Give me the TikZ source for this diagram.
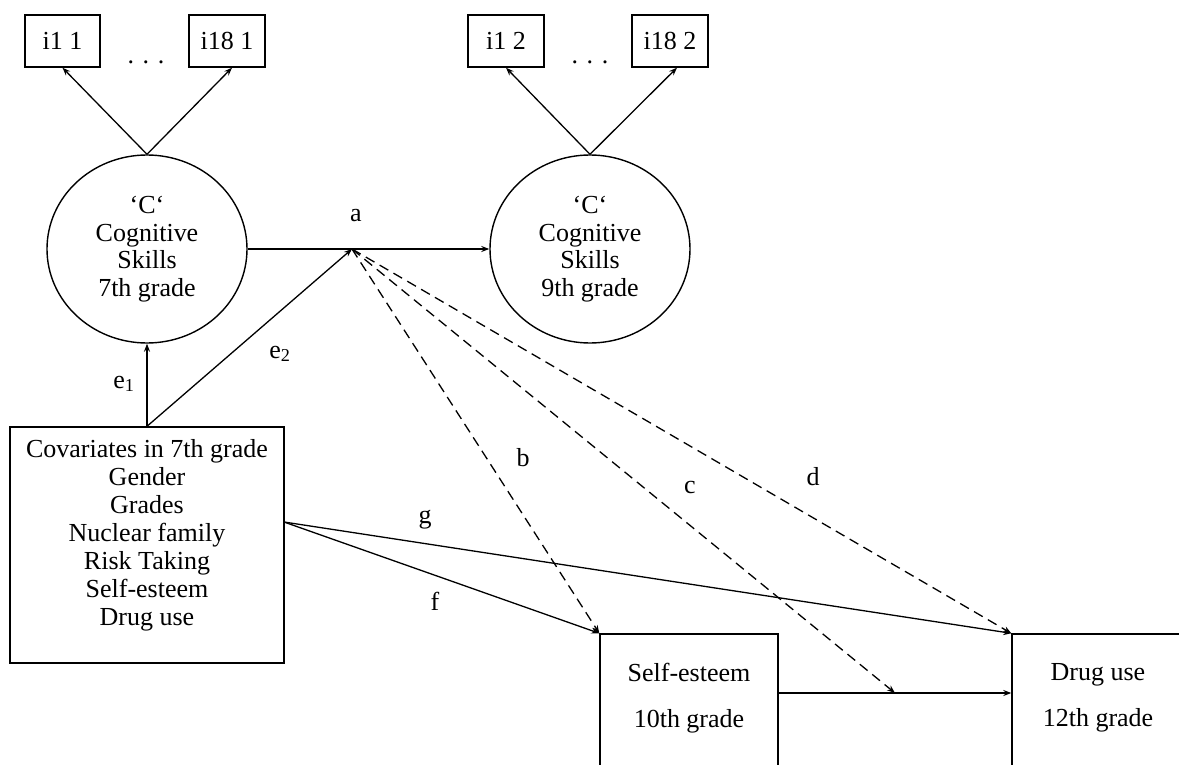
\documentclass[tikz,border=0pt]{standalone}
\usepackage{fontspec}
\setmainfont{Liberation Serif}
\usetikzlibrary{arrows.meta,shapes.geometric}
\begin{document}
\begin{tikzpicture}[x=1pt,y=-1pt,
  every node/.style={font=\fontsize{26}{28}\selectfont, inner sep=0pt},
  box/.style={draw, line width=1.4pt, rectangle},
  latent/.style={draw, line width=1.4pt, ellipse, minimum width=200pt, minimum height=188pt, align=center, font=\fontsize{26}{27.7}\selectfont},
  arr/.style={line width=1.3pt, -{Stealth[length=8pt,width=6pt]}},
  darr/.style={arr, dash pattern=on 10pt off 6pt},
  twoline/.style={align=center, font=\fontsize{26}{46}\selectfont}]
\useasboundingbox (0,0) rectangle (1179,765);
\clip (0,0) rectangle (1179,765);
% indicators
\node[box, minimum width=75pt, minimum height=52pt] (i11) at (62.5,41) {i1 1};
\node[box, minimum width=76pt, minimum height=52pt] (i181) at (227,41) {i18 1};
\node[box, minimum width=76pt, minimum height=52pt] (i12) at (506,41) {i1 2};
\node[box, minimum width=76pt, minimum height=52pt] (i182) at (670,41) {i18 2};
\node[anchor=base] (dots1) at (146,64) {. . .};
\node[anchor=base] (dots2) at (590,64) {. . .};
% latent variables
\node[latent] (C1) at (147,249) {‘C‘\\Cognitive\\Skills\\7th grade};
\node[latent] (C2) at (590,249) {‘C‘\\Cognitive\\Skills\\9th grade};
% covariates
\node[box, minimum width=274pt, minimum height=236pt] (cov) at (147,545) {};
\node[align=center] (covtxt) at (147,535) {Covariates in 7th grade\\Gender\\Grades\\Nuclear family\\Risk Taking\\Self-esteem\\Drug use};
% outcomes
\node[box, minimum width=178pt, minimum height=180pt] (se) at (689,724) {};
\node[twoline] (setxt) at (689,698) {Self-esteem\\10th grade};
\node[box, minimum width=178pt, minimum height=180pt] (du) at (1101,724) {};
\node[twoline] (dutxt) at (1098,698) {Drug use\\12th grade};
% coordinates
\coordinate (a) at (352,249);
\coordinate (covg) at (284,522);
\coordinate (seout) at ([yshift=31pt]se.east);
\coordinate (cpt) at (895,693);
% measurement arrows
\draw[arr] (C1.north) -- (i11.south);
\draw[arr] (C1.north) -- ([xshift=5pt]i181.south);
\draw[arr] (C2.north) -- (i12.south);
\draw[arr] (C2.north) -- ([xshift=7pt]i182.south);
% structural
\draw[arr] (C1.east) -- (C2.west);
\draw[arr] (cov.north) -- (C1.south);
\draw[arr] (cov.north) -- (a);
\draw[darr] (a) -- (se.north west);
\draw[darr] (a) -- (cpt);
\draw[darr] (a) -- (du.north west);
\draw[arr] (covg) -- (se.north west);
\draw[arr] (covg) -- (du.north west);
\draw[arr] (seout) -- (seout -| du.west);
% labels
\node (la) at (356,216) {a};
\node (le1) at (124,384) {e\textsubscript{1}};
\node (le2) at (280,354) {e\textsubscript{2}};
\node (lb) at (523,458) {b};
\node (lc) at (690,487) {c};
\node (ld) at (813,477) {d};
\node (lg) at (425,520) {g};
\node (lf) at (435,601) {f};
\end{tikzpicture}
\end{document}
